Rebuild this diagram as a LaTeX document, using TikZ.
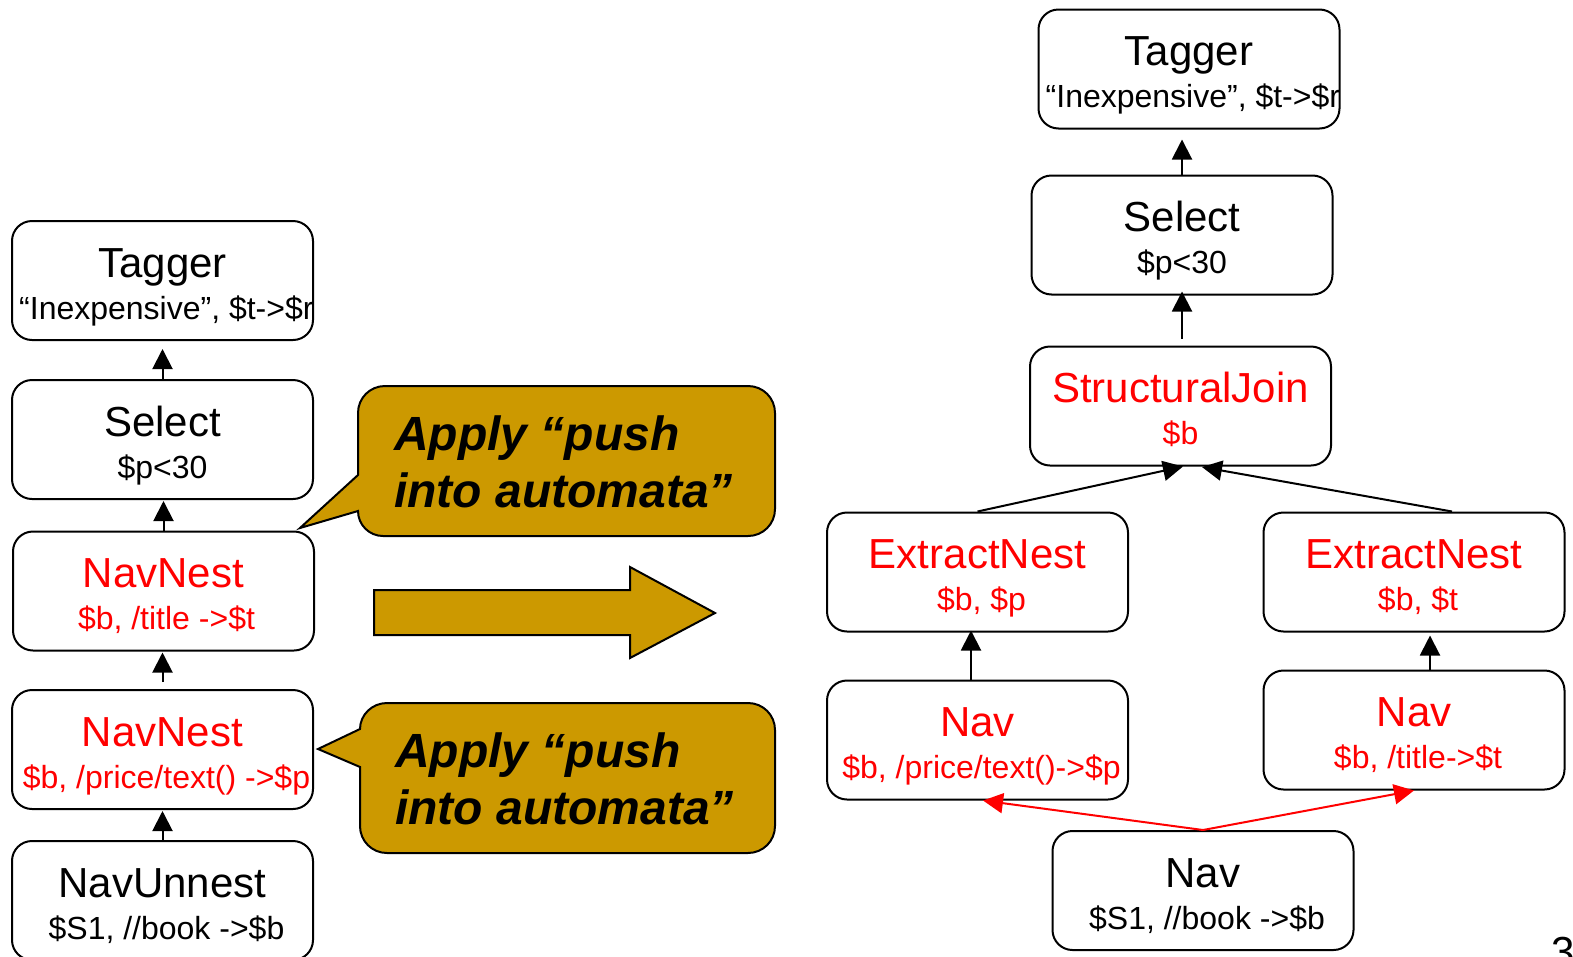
\documentclass[tikz,border=0pt]{standalone}
\usepackage{fontspec}
\setmainfont{Liberation Sans}
\usetikzlibrary{arrows.meta,calc}
\definecolor{gold}{RGB}{204,153,0}
\definecolor{opred}{RGB}{255,0,0}
\begin{document}
\begin{tikzpicture}[x=1pt,y=-1pt,
  opbox/.style={draw, line width=2pt, rounded corners=20pt, minimum width=301pt, minimum height=119pt, inner sep=0pt},
  ttl/.style={font=\fontsize{42}{48}\selectfont, inner sep=0pt, anchor=base},
  sub/.style={font=\fontsize{32}{38}\selectfont, inner sep=0pt, anchor=base},
  hot/.style={text=opred},
  flow/.style={line width=2pt, -{Triangle[length=20pt,width=20pt]}},
  redflow/.style={flow, draw=opred, fill=opred},
  callout/.style={draw, line width=2pt, fill=gold, line join=miter},
  calltext/.style={font=\fontsize{48}{57}\selectfont\bfseries\itshape, inner sep=0pt, anchor=base west}
]
\clip (0,0) rectangle (1573,956);
\fill[white] (0,0) rectangle (1573,956);

% ---------- left plan ----------
\node[opbox] (tagL) at (162.5,280.5) {};
\node[opbox] (selL) at (162.5,439.5) {};
\node[opbox] (nnA)  at (163.5,591)   {};
\node[opbox] (nnB)  at (162.5,749.5) {};
\node[opbox] (nuL)  at (162.5,900.5) {};

\node[ttl] (tagLt) at ($(tagL.north)+(0,57)$) {Tagger};
\node[sub, anchor=base west] (tagLs) at ($(tagL.north west)+(8,99)$) {“Inexpensive”, \$t->\$r};
\node[ttl] (selLt) at ($(selL.north)+(0,57)$) {Select};
\node[sub] (selLs) at ($(selL.north)+(0,99)$) {\$p<30};
\node[ttl, hot] (nnAt) at ($(nnA.north)+(0,57)$) {NavNest};
\node[sub, hot] (nnAs) at ($(nnA.north)+(3,99)$) {\$b, /title ->\$t};
\node[ttl, hot] (nnBt) at ($(nnB.north)+(0,57)$) {NavNest};
\node[sub, hot] (nnBs) at ($(nnB.north)+(4,99)$) {\$b, /price/text() ->\$p};
\node[ttl] (nuLt) at ($(nuL.north)+(0,57)$) {NavUnnest};
\node[sub] (nuLs) at ($(nuL.north)+(4,99)$) {\$S1, //book ->\$b};

\coordinate (nnAup) at (nnA.north);
\coordinate (nnBup) at (nnB.north);
\draw[flow, shorten >=8pt] (selL.north) -- (tagL.south);
\draw[flow, shorten >=1pt] (nnAup) -- (nnAup |- selL.south);
\draw[flow, shorten <=7pt, shorten >=1pt] (nnBup) -- (nnBup |- nnA.south);
\draw[flow, shorten >=1pt] (nuL.north) -- (nnB.south);

% ---------- callouts and the rewrite arrow ----------
\draw[callout] (300,528) -- (358,511)
  .. controls (358,524.8) and (369.2,536) .. (383,536) -- (748,536)
  .. controls (763,536) and (775,524) .. (775,509) -- (775,413)
  .. controls (775,398) and (763,386) .. (748,386) -- (385,386)
  .. controls (370,386) and (358,398) .. (358,413) -- (358,475) -- cycle;
\node[calltext] (c1a) at (394,450) {Apply “push};
\node[calltext] (c1b) at (394,507) {into automata”};

\draw[callout] (318,749) -- (360,767) -- (360,826)
  .. controls (360,841) and (372,853) .. (387,853) -- (748,853)
  .. controls (763,853) and (775,841) .. (775,826) -- (775,730)
  .. controls (775,715) and (763,703) .. (748,703) -- (387,703)
  .. controls (372,703) and (360,715) .. (360,729) -- cycle;
\node[calltext] (c2a) at (395,767) {Apply “push};
\node[calltext] (c2b) at (395,824) {into automata”};

\draw[callout] (374,590) -- (630,590) -- (630,567) -- (715,613)
  -- (630,658) -- (630,635) -- (374,635) -- cycle;

% ---------- right plan ----------
\node[opbox] (tagR) at (1189,69)    {};
\node[opbox] (selR) at (1182,235)   {};
\node[opbox] (sj)   at (1180.5,406) {};
\node[opbox] (en1)  at (977.5,572)  {};
\node[opbox] (en2)  at (1414,572)   {};
\node[opbox] (nav1) at (977.5,740)  {};
\node[opbox] (nav2) at (1414,730)   {};
\node[opbox] (navB) at (1203,890.5) {};

\node[ttl] (tagRt) at ($(tagR.north)+(0,57)$) {Tagger};
\node[sub, anchor=base west] (tagRs) at ($(tagR.north west)+(8,99)$) {“Inexpensive”, \$t->\$r};
\node[ttl] (selRt) at ($(selR.north)+(0,57)$) {Select};
\node[sub] (selRs) at ($(selR.north)+(0,99)$) {\$p<30};
\node[ttl, hot] (sjt) at ($(sj.north)+(0,57)$) {StructuralJoin};
\node[sub, hot] (sjs) at ($(sj.north)+(0,99)$) {\$b};
\node[ttl, hot] (en1t) at ($(en1.north)+(0,57)$) {ExtractNest};
\node[sub, hot] (en1s) at ($(en1.north)+(4,99)$) {\$b, \$p};
\node[ttl, hot] (en2t) at ($(en2.north)+(0,57)$) {ExtractNest};
\node[sub, hot] (en2s) at ($(en2.north)+(4,99)$) {\$b, \$t};
\node[ttl, hot] (nav1t) at ($(nav1.north)+(0,57)$) {Nav};
\node[sub, hot] (nav1s) at ($(nav1.north)+(4,99)$) {\$b, /price/text()->\$p};
\node[ttl, hot] (nav2t) at ($(nav2.north)+(0,57)$) {Nav};
\node[sub, hot] (nav2s) at ($(nav2.north)+(4,99)$) {\$b, /title->\$t};
\node[ttl] (navBt) at ($(navB.north)+(0,57)$) {Nav};
\node[sub] (navBs) at ($(navB.north)+(4,99)$) {\$S1, //book ->\$b};

\coordinate (n1up) at ([xshift=-6.5pt]nav1.north);
\coordinate (n2up) at ([xshift=16pt]nav2.north);
\coordinate (sjup) at (sj.north -| selR.south);
\draw[flow, shorten >=10pt] (selR.north) -- (selR.north |- tagR.south);
\draw[flow, shorten <=7pt, shorten >=-4pt] (sjup) -- (selR.south);
\draw[flow] (en1.north) -- ([xshift=2.5pt]sj.south);
\draw[flow, shorten >=3pt] ([xshift=38pt]en2.north) -- ([xshift=18.5pt]sj.south);
\draw[flow, shorten >=-2pt] (n1up) -- (n1up |- en1.south);
\draw[flow, shorten >=3pt] (n2up) -- (n2up |- en2.south);
\draw[redflow] (navB.north) -- ([xshift=5.5pt]nav1.south);
\draw[redflow] (navB.north) -- (nav2.south);

% page number, partly beyond the lower edge
\node[font=\fontsize{42}{48}\selectfont, inner sep=0pt, anchor=north west] (pgno) at (1551,937) {3};
\end{tikzpicture}
\end{document}
